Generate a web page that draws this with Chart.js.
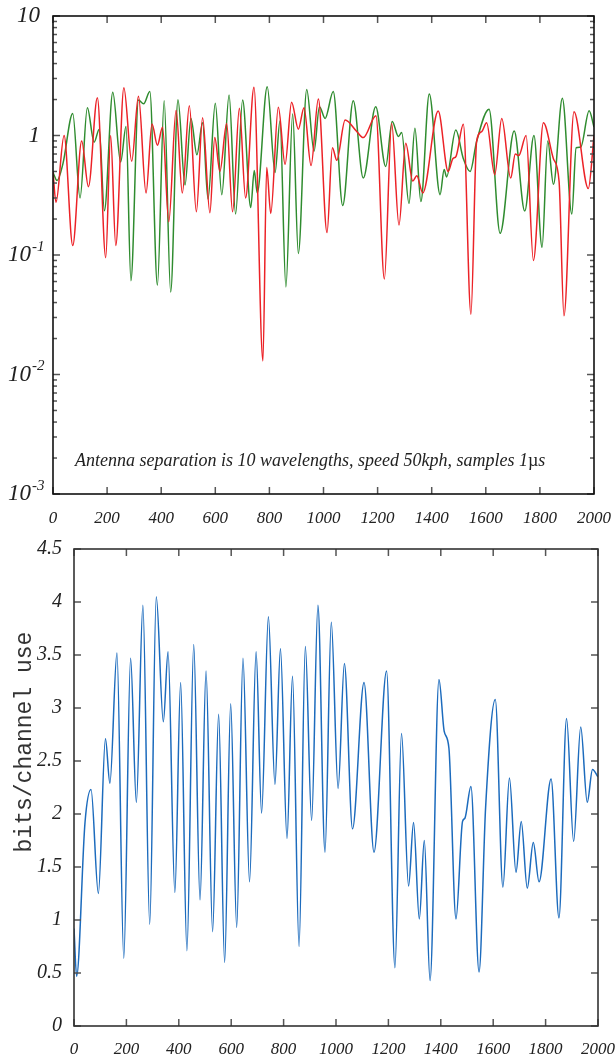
<!DOCTYPE html>
<html>
<head>
  <meta charset="UTF-8">
  <title>Antenna fading and capacity</title>
  <script src="https://cdn.jsdelivr.net/npm/chart.js"></script>
  <style>
    body { margin: 0; background: white; }
    #wrap { position: relative; width: 615px; height: 1064px; }
    canvas { position: absolute; left: 0; }
    #top { top: 0; }
    #bottom { top: 530px; }
  </style>
</head>
<body>
<div id="wrap">
  <canvas id="top" width="615" height="530"></canvas>
  <canvas id="bottom" width="615" height="534"></canvas>
</div>

<script>
// top panel: two antenna gains (log scale)
const redX = [0, 11, 41, 73, 106, 131, 164, 195, 213, 232, 262, 291, 316, 344, 366, 386, 405, 428, 455, 478, 504, 530, 553, 580, 598, 617, 642, 664, 689, 712, 743, 776, 790, 805, 833, 858, 882, 907, 928, 954, 981, 1013, 1033, 1049, 1080, 1123, 1147, 1194, 1225, 1252, 1279, 1304, 1330, 1345, 1367, 1424, 1461, 1478, 1490, 1517, 1545, 1566, 1585, 1603, 1633, 1659, 1692, 1709, 1722, 1749, 1776, 1813, 1850, 1871, 1889, 1926, 1979, 2000];
const redY = [0.50, 0.276, 1.0, 0.12, 0.90, 0.373, 2.07, 0.095, 1.0, 0.12, 2.51, 0.61, 2.13, 0.33, 1.25, 0.83, 1.17, 0.19, 1.63, 0.33, 1.77, 0.23, 1.41, 0.226, 0.96, 0.50, 1.26, 0.23, 1.69, 0.30, 2.53, 0.013, 0.54, 0.223, 1.72, 0.574, 1.90, 1.13, 1.71, 0.56, 2.02, 0.154, 0.79, 0.62, 1.35, 1.08, 0.96, 1.46, 0.063, 1.26, 0.178, 0.86, 0.416, 0.46, 0.33, 1.60, 0.50, 0.64, 0.67, 1.24, 0.032, 0.89, 1.08, 1.28, 0.47, 1.39, 0.44, 0.70, 0.68, 1.0, 0.09, 1.28, 0.64, 0.41, 0.031, 1.58, 0.36, 1.0];

const greenX = [0, 15, 37, 73, 100, 127, 152, 171, 190, 221, 250, 270, 288, 316, 335, 358, 386, 411, 435, 462, 488, 510, 532, 553, 573, 600, 624, 651, 675, 701, 731, 744, 755, 792, 821, 839, 861, 886, 907, 938, 965, 985, 1006, 1036, 1071, 1110, 1147, 1193, 1230, 1254, 1277, 1289, 1316, 1338, 1360, 1391, 1431, 1446, 1455, 1489, 1517, 1542, 1566, 1612, 1653, 1705, 1744, 1778, 1808, 1829, 1850, 1883, 1918, 1934, 1951, 1982, 2000];
const greenY = [0.49, 0.42, 0.585, 1.53, 0.30, 1.71, 0.88, 1.13, 0.235, 2.30, 0.60, 1.19, 0.061, 1.98, 1.84, 2.33, 0.056, 1.95, 0.049, 1.99, 0.385, 1.39, 0.69, 1.28, 0.294, 1.86, 0.32, 2.18, 0.22, 1.98, 0.25, 0.51, 0.33, 2.56, 0.49, 1.32, 0.054, 1.51, 0.103, 2.43, 0.74, 1.74, 1.39, 2.33, 0.26, 1.95, 0.44, 1.74, 0.55, 1.31, 0.98, 1.06, 0.27, 1.15, 0.28, 2.22, 0.32, 0.52, 0.45, 1.11, 0.64, 0.50, 0.89, 1.66, 0.152, 1.09, 0.233, 1.0, 0.116, 0.9, 0.39, 2.05, 0.22, 0.79, 0.8, 1.61, 1.18];

// bottom panel: capacity in bits/channel use
const blueX = [0, 10, 42, 65, 93, 120, 137, 164, 190, 216, 238, 263, 289, 314, 341, 359, 385, 407, 431, 457, 481, 504, 529, 552, 575, 598, 621, 645, 670, 695, 716, 742, 767, 788, 813, 834, 859, 883, 907, 931, 958, 982, 1008, 1032, 1063, 1107, 1145, 1193, 1225, 1250, 1277, 1296, 1318, 1337, 1359, 1393, 1413, 1431, 1458, 1483, 1492, 1515, 1546, 1571, 1608, 1637, 1662, 1687, 1707, 1730, 1753, 1775, 1821, 1851, 1880, 1907, 1934, 1959, 1979, 2000];
const blueY = [0.92, 0.47, 1.92, 2.23, 1.25, 2.71, 2.29, 3.52, 0.64, 3.47, 2.11, 3.97, 0.96, 4.05, 2.87, 3.53, 1.26, 3.24, 0.71, 3.60, 1.19, 3.35, 0.89, 2.94, 0.60, 3.04, 0.93, 3.47, 1.36, 3.53, 2.01, 3.86, 2.28, 3.56, 1.77, 3.30, 0.75, 3.58, 1.94, 3.97, 1.64, 3.81, 2.24, 3.42, 1.86, 3.24, 1.64, 3.35, 0.55, 2.76, 1.32, 1.92, 1.01, 1.75, 0.43, 3.27, 2.78, 2.62, 1.01, 1.93, 1.96, 2.26, 0.51, 2.06, 3.08, 1.31, 2.34, 1.45, 1.93, 1.30, 1.73, 1.36, 2.33, 1.02, 2.90, 1.74, 2.82, 2.11, 2.42, 2.35];

// tick labels
const xTicks = [0, 200, 400, 600, 800, 1000, 1200, 1400, 1600, 1800, 2000];
const topDecades = [0.001, 0.01, 0.1, 1, 10];
const topDecadeLabels = ['10^-3', '10^-2', '10^-1', '1', '10'];
const topMinor = [2, 3, 4, 5, 6, 7, 8, 9];
const bottomYTicks = [0, 0.5, 1, 1.5, 2, 2.5, 3, 3.5, 4, 4.5];

const note = 'Antenna separation is 10 wavelengths, speed 50kph, samples 1';
const yTitle = 'bits/channel use';

const serif = "'Liberation Serif', 'Times New Roman', serif";
const pts = (xs, ys) => xs.map((x, i) => ({x: x, y: ys[i]}));

function line(ctx, x1, y1, x2, y2) {
  ctx.beginPath(); ctx.moveTo(x1, y1); ctx.lineTo(x2, y2); ctx.stroke();
}

// frame and inward ticks on all four sides
const framePlugin = {
  id: 'frame',
  afterDatasetsDraw(chart, args, opts) {
    const {ctx, chartArea: a} = chart;
    const x = chart.scales.x, y = chart.scales.y;
    ctx.save();
    ctx.strokeStyle = opts.tickColor;
    ctx.lineWidth = 1.5;
    x.ticks.forEach(t => {
      const px = x.getPixelForValue(t.value);
      line(ctx, px, a.bottom, px, a.bottom - opts.xLen);
      line(ctx, px, a.top, px, a.top + opts.xLen);
    });
    y.ticks.forEach(t => {
      const py = y.getPixelForValue(t.value);
      const len = t.major ? opts.yLen : opts.yMinorLen;
      line(ctx, a.left, py, a.left + len, py);
      line(ctx, a.right, py, a.right - len, py);
    });
    ctx.strokeStyle = opts.frameColor;
    ctx.lineWidth = 1.6;
    ctx.strokeRect(a.left, a.top, a.width, a.height);
    ctx.restore();
  }
};

// decade labels with superscripts and the note for the top panel
const topLabels = {
  id: 'topLabels',
  afterDraw(chart) {
    const {ctx} = chart;
    const y = chart.scales.y;
    ctx.save();
    ctx.fillStyle = '#222';
    ctx.textBaseline = 'middle';
    ctx.textAlign = 'left';
    topDecades.forEach((v, i) => {
      const py = y.getPixelForValue(v);
      const parts = topDecadeLabels[i].split('^');
      ctx.font = 'italic 23px ' + serif;
      const w1 = ctx.measureText(parts[0]).width;
      // plain labels end near x=40, superscripted ones start at x=8
      const x0 = parts[1] ? 8 : 40 - w1;
      ctx.fillText(parts[0], x0, py);
      if (parts[1]) {
        ctx.font = 'italic 15px ' + serif;
        ctx.fillText(parts[1], x0 + w1 + 1, py - 8);
      }
    });
    // note inside the plot
    const f = 18;
    ctx.font = 'italic ' + f + 'px ' + serif;
    ctx.fillText(note, 75, 461);
    let nx = 75 + ctx.measureText(note).width;
    ctx.font = f + 'px ' + serif;
    ctx.fillText('\u00b5', nx, 461);
    nx += ctx.measureText('\u00b5').width;
    ctx.font = 'italic ' + f + 'px ' + serif;
    ctx.fillText('s', nx, 461);
    ctx.restore();
  }
};

// rotated monospace axis title for the bottom panel
const bottomTitle = {
  id: 'bottomTitle',
  afterDraw(chart) {
    const {ctx} = chart;
    ctx.save();
    ctx.translate(25, 212);
    ctx.rotate(-Math.PI / 2);
    ctx.fillStyle = '#333';
    ctx.font = "23px 'Liberation Mono', 'Courier New', monospace";
    ctx.textAlign = 'center';
    ctx.textBaseline = 'middle';
    ctx.fillText(yTitle, 0, 0);
    ctx.restore();
  }
};

const xAxis = (height, pad) => ({
  type: 'linear',
  min: 0,
  max: 2000,
  grid: {display: false, drawTicks: false},
  border: {display: false},
  afterBuildTicks: s => { s.ticks = xTicks.map(v => ({value: v})); },
  afterFit: s => {
    s.height = height;
    s.paddingLeft = 0;
    s.paddingRight = 0;
  },
  ticks: {
    padding: pad,
    maxRotation: 0,
    autoSkip: false,
    color: '#222',
    font: {family: serif, size: 17, style: 'italic'},
    callback: v => String(v)
  }
});

new Chart(document.getElementById('top'), {
  type: 'line',
  data: {
    datasets: [
      {data: pts(redX, redY), borderColor: '#ec2227', borderWidth: 1.5},
      {data: pts(greenX, greenY), borderColor: '#2f8c2f', borderWidth: 1.5}
    ]
  },
  options: {
    responsive: false,
    animation: false,
    layout: {padding: {top: 16, right: 21, left: 0, bottom: 0}},
    elements: {point: {radius: 0}, line: {cubicInterpolationMode: 'monotone'}},
    plugins: {
      legend: {display: false},
      tooltip: {enabled: false},
      frame: {tickColor: '#555', frameColor: '#111', xLen: 7, yLen: 7, yMinorLen: 4}
    },
    scales: {
      x: xAxis(36, 14),
      y: {
        type: 'logarithmic',
        min: 0.001,
        max: 10,
        grid: {display: false, drawTicks: false},
        border: {display: false},
        ticks: {display: false},
        afterBuildTicks: s => {
          const list = [];
          topDecades.forEach(d => {
            list.push({value: d, major: true});
            if (d < 10) topMinor.forEach(m => list.push({value: d * m, major: false}));
          });
          s.ticks = list;
        },
        afterFit: s => {
          s.width = 53;
          s.paddingTop = 0;
          s.paddingBottom = 0;
        }
      }
    }
  },
  plugins: [framePlugin, topLabels]
});

new Chart(document.getElementById('bottom'), {
  type: 'line',
  data: {
    datasets: [
      {data: pts(blueX, blueY), borderColor: '#1c6bbd', borderWidth: 1.5}
    ]
  },
  options: {
    responsive: false,
    animation: false,
    layout: {padding: {top: 19, right: 17, left: 0, bottom: 0}},
    elements: {point: {radius: 0}, line: {cubicInterpolationMode: 'monotone'}},
    plugins: {
      legend: {display: false},
      tooltip: {enabled: false},
      frame: {tickColor: '#555', frameColor: '#333', xLen: 7, yLen: 7, yMinorLen: 7}
    },
    scales: {
      x: xAxis(38, 13),
      y: {
        type: 'linear',
        min: 0,
        max: 4.5,
        grid: {display: false, drawTicks: false},
        border: {display: false},
        afterBuildTicks: s => { s.ticks = bottomYTicks.map(v => ({value: v, major: true})); },
        afterFit: s => {
          s.width = 74;
          s.paddingTop = 0;
          s.paddingBottom = 0;
        },
        ticks: {
          padding: 12,
          color: '#222',
          font: {family: serif, size: 20, style: 'italic'},
          callback: v => String(v)
        }
      }
    }
  },
  plugins: [framePlugin, bottomTitle]
});
</script>
</body>
</html>
